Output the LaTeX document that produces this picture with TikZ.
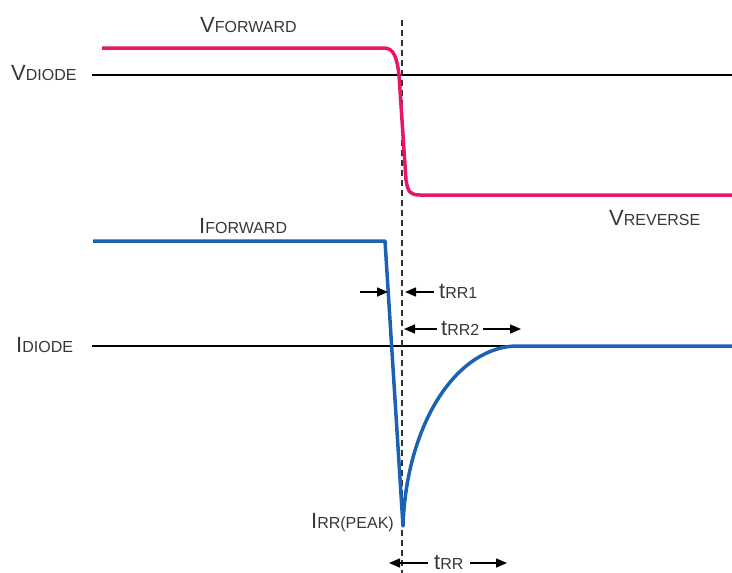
\documentclass[tikz,border=0pt]{standalone}
\usepackage{fontspec}
\setmainfont{Liberation Sans}
\usetikzlibrary{arrows.meta}
\definecolor{vred}{RGB}{232,22,104}
\definecolor{iblue}{RGB}{28,98,178}
\definecolor{txt}{RGB}{55,55,55}
\newcommand{\sig}[2]{{\fontsize{22}{22}\selectfont #1}\raisebox{-0.15ex}{\fontsize{16}{16}\selectfont #2}}

\begin{document}
\begin{tikzpicture}
  [x=1pt, y=-1pt, every node/.style={text=txt, inner sep=0pt},
   meas/.style={-{Triangle[length=11pt,width=9pt]}, line width=1.5pt}]
  \useasboundingbox (0,0) rectangle (732,573);
  % axes
  \draw[line width=2pt] (92,75) -- (732,75);
  \draw[line width=2pt] (92,346) -- (732,346);
  \draw[gray!40!black, line width=1.5pt, dash pattern=on 6pt off 4pt] (402,20) -- (402,573);
  % waveforms
  \draw[vred, line width=3.5pt, line join=round]
    (102,48) -- (384,48) .. controls (394,48) and (397,58) .. (399,75)
    -- (406,180) .. controls (408,192) and (410,195) .. (420,195) -- (732,195);
  \draw[iblue, line width=3.5pt, line join=round]
    (93,241) -- (385,241) -- (403,526)
    .. controls (406,430) and (452,350) .. (514,346) -- (732,346);

  \node[anchor=base west] (vfwd) at (200,32) {\sig{V}{FORWARD}};
  \node[anchor=base west] (vdiode) at (11,80) {\sig{V}{DIODE}};
  \node[anchor=base west] (vrev) at (609,225) {\sig{V}{REVERSE}};
  \node[anchor=base west] (ifwd) at (199,233) {\sig{I}{FORWARD}};
  \node[anchor=base west] (idiode) at (16,352) {\sig{I}{DIODE}};
  \node[anchor=base west] (ipeak) at (311,528) {\sig{I}{RR(PEAK)}};
  \node[anchor=base west] (trr1) at (439,298) {\sig{t}{RR1}};
  \node[anchor=base west] (trr2) at (441,335) {\sig{t}{RR2}};
  \node[anchor=base west] (trr) at (434,569) {\sig{t}{RR}};

  \coordinate (p1) at (360,292);  \coordinate (q1) at (388,292);
  \coordinate (p2) at (434,292);  \coordinate (q2) at (405,292);
  \coordinate (p3) at (437,329);  \coordinate (q3) at (404,329);
  \coordinate (p4) at (483,329);  \coordinate (q4) at (521,329);
  \coordinate (p5) at (428,563);  \coordinate (q5) at (389,563);
  \coordinate (p6) at (470,563);  \coordinate (q6) at (507,563);

  \foreach \from/\to in {p1/q1,p2/q2,p3/q3,p4/q4,p5/q5,p6/q6}
  \draw[meas] (\from) -- (\to);
\end{tikzpicture}
\end{document}
